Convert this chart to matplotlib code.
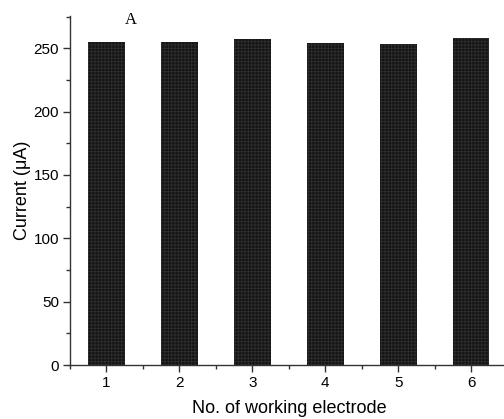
import matplotlib
matplotlib.use("Agg")
import matplotlib.pyplot as plt
from matplotlib.ticker import MultipleLocator

electrodes = [1, 2, 3, 4, 5, 6]
current = [254.7, 254.6, 257.3, 254.2, 253.4, 258.1]

plt.rcParams["font.family"] = ["Liberation Sans", "DejaVu Sans"]
plt.rcParams["hatch.linewidth"] = 0.6
plt.rcParams["hatch.color"] = "#2e2e2e"

fig = plt.figure(figsize=(5.04, 4.19), dpi=100)
# axes run a little past the right edge of the figure
ax = fig.add_axes([70 / 504, 1 - 365 / 419, 437.7 / 504, 349 / 419])

ax.bar(electrodes, current, width=0.5, color="#141414", hatch="+++++",
       edgecolor="#2e2e2e", linewidth=0)

ax.set_xlim(0.5, 6.5)
ax.set_ylim(0, 275.5)
ax.xaxis.set_major_locator(MultipleLocator(1))
ax.xaxis.set_minor_locator(MultipleLocator(0.5))
ax.yaxis.set_major_locator(MultipleLocator(50))
ax.yaxis.set_minor_locator(MultipleLocator(25))

for s in ["top", "right"]:
    ax.spines[s].set_visible(False)
for s in ["left", "bottom"]:
    ax.spines[s].set_linewidth(1.0)
    ax.spines[s].set_color("#333333")

ax.tick_params(which="major", direction="out", length=5, width=1, labelsize=11,
               color="#333333", pad=3)
ax.tick_params(which="minor", direction="out", length=2.8, width=1, color="#333333")

ax.set_xlabel("No. of working electrode", fontsize=13, labelpad=7)
ax.set_ylabel("Current (μA)", fontsize=13, labelpad=2)

ax.text(1.33, 272, "A", family=["Liberation Serif", "DejaVu Serif"], fontsize=12,
        ha="center", va="center")

fig.savefig("out.png", dpi=100)
